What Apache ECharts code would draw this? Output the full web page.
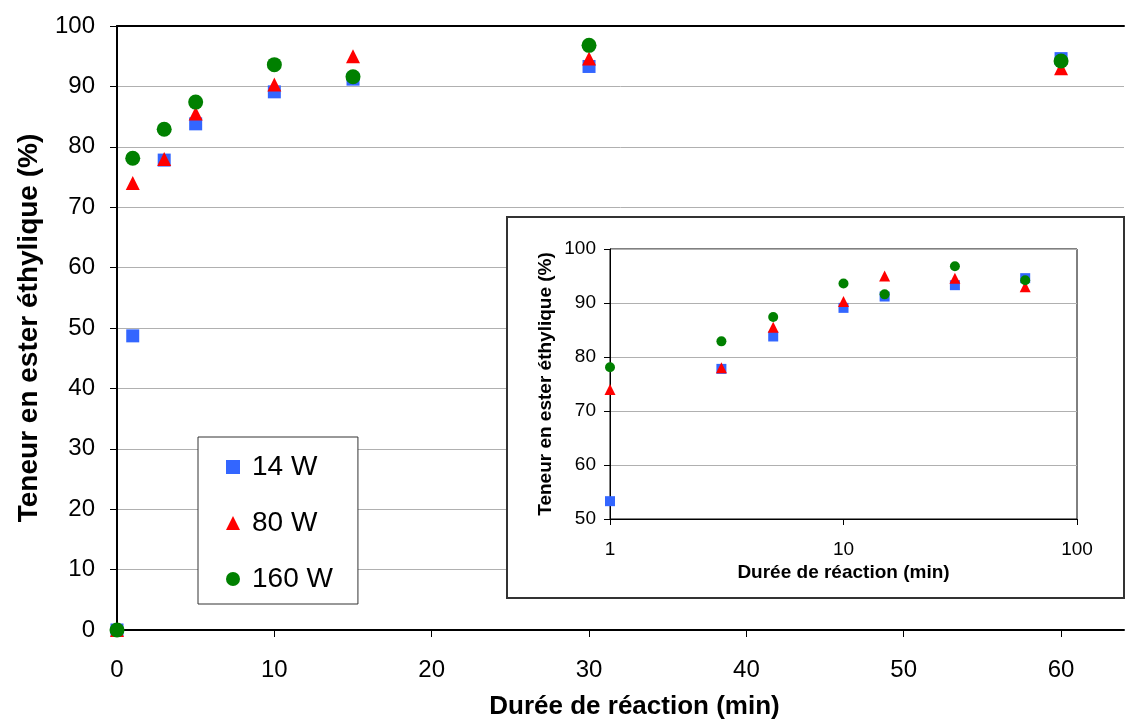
<!DOCTYPE html>
<html>
<head>
<meta charset="utf-8">
<script src="https://cdn.jsdelivr.net/npm/echarts@6/dist/echarts.min.js"></script>
<style>
	html, body { margin: 0; padding: 0; background: #fff; }
	#main { width: 1126px; height: 719px; }
</style>
</head>
<body>
<div id="main"></div>
<script>
// durée de réaction (min)
var temps = [0, 1, 3, 5, 10, 15, 30, 60];
// teneur en ester éthylique (%) - graphique principal
var w14 = [0, 48.7, 77.8, 83.8, 89.1, 91.2, 93.3, 94.6];
var w80 = [0, 74.0, 78.0, 85.5, 90.3, 95.0, 94.6, 93.0];
var w160 = [0, 78.1, 82.9, 87.4, 93.6, 91.6, 96.8, 94.2];
// encart (échelle log) : le point 14 W à 1 min y est lu plus haut
var w14Encart = [0, 53.3, 77.8, 83.8, 89.1, 91.2, 93.3, 94.6];
var noms = ["14 W", "80 W", "160 W"];
var ticksX = [0, 10, 20, 30, 40, 50, 60];

var police = "'Liberation Sans', Arial, sans-serif";
var couleurs = ["#3366FF", "#FF0000", "#008000"];
var symboles = ["rect", "triangle", "circle"];
var tailles = [13, 14, 15];
var taillesInset = [10, 11, 10];

function points(vals, sansZero) {
	var out = [];
	for (var i = 0; i < temps.length; i++) {
		if (sansZero && temps[i] <= 0) continue;
		out.push([temps[i], vals[i]]);
	}
	return out;
}
var valeurs = [w14, w80, w160];
var valeursEncart = [w14Encart, w80, w160];

var series = [];
// graphique principal
for (var i = 0; i < 3; i++) {
	series.push({
		name: noms[i],
		type: "scatter",
		xAxisIndex: 0,
		yAxisIndex: 0,
		symbol: symboles[i],
		symbolSize: tailles[i],
		itemStyle: { color: couleurs[i], opacity: 1 },
		clip: false,
		z: 2,
		data: points(valeurs[i], false)
	});
}
// encart log
for (var j = 0; j < 3; j++) {
	series.push({
		name: noms[j],
		type: "scatter",
		xAxisIndex: 2,
		yAxisIndex: 1,
		symbol: symboles[j],
		symbolSize: taillesInset[j],
		itemStyle: { color: couleurs[j], opacity: 1 },
		clip: false,
		z: 5,
		data: points(valeursEncart[j], true)
	});
}

var chart = echarts.init(document.getElementById("main"));
var option = {
	backgroundColor: "#fff",
	animation: false,
	textStyle: { fontFamily: police },
	grid: [
		{ left: 117, top: 26, right: 2, bottom: 89, outerBoundsMode: "none" },
		{ left: 610, top: 249, right: 49, bottom: 200, outerBoundsMode: "none", show: true, borderColor: "#000", borderWidth: 1, backgroundColor: "transparent", z: 3 }
	],
	graphic: [
		{
			type: "rect",
			z: 1,
			shape: { x: 507, y: 217, width: 617, height: 381 },
			style: { fill: "#fff", stroke: "#333", lineWidth: 2 }
		}
	],
	legend: {
		orient: "vertical",
		left: 198,
		top: 437,
		padding: [16, 25, 11, 28],
		itemGap: 28,
		itemWidth: 14,
		itemHeight: 14,
		backgroundColor: "#fff",
		borderColor: "#333",
		borderWidth: 1,
		borderRadius: 0,
		data: noms,
		textStyle: { fontFamily: police, fontSize: 28, color: "#000", padding: [0, 0, 0, 7] }
	},
	xAxis: [
		{
			type: "value",
			gridIndex: 0,
			min: 0,
			max: 64,
			interval: 10,
			name: "Durée de réaction (min)",
			nameLocation: "middle",
			nameGap: 64,
			nameTextStyle: { fontFamily: police, fontSize: 26, fontWeight: "bold", color: "#000", padding: [0, 0, 0, 28] },
			axisLine: { show: true, lineStyle: { color: "#000", width: 2 } },
			axisTick: { show: true, length: 7, customValues: ticksX, lineStyle: { color: "#000", width: 1 } },
			axisLabel: { customValues: ticksX, margin: 28, fontSize: 24, color: "#000", fontFamily: police },
			splitLine: { show: false }
		},
		{
			type: "value",
			gridIndex: 0,
			position: "top",
			min: 0,
			max: 64,
			axisLine: { show: true, lineStyle: { color: "#000", width: 2 } },
			axisTick: { show: false },
			axisLabel: { show: false },
			splitLine: { show: false }
		},
		{
			type: "log",
			gridIndex: 1,
			logBase: 10,
			min: 1,
			max: 100,
			z: 3,
			name: "Durée de réaction (min)",
			nameLocation: "middle",
			nameGap: 44,
			nameTextStyle: { fontFamily: police, fontSize: 19, fontWeight: "bold", color: "#000" },
			axisLine: { show: true, lineStyle: { color: "#000", width: 1 } },
			axisTick: { show: true, length: 6, lineStyle: { color: "#000" } },
			minorTick: { show: false },
			axisLabel: { margin: 21, fontSize: 19, color: "#000", fontFamily: police },
			splitLine: { show: false }
		}
	],
	yAxis: [
		{
			type: "value",
			gridIndex: 0,
			min: 0,
			max: 100,
			interval: 10,
			name: "Teneur en ester éthylique (%)",
			nameLocation: "middle",
			nameGap: 74,
			nameTextStyle: { fontFamily: police, fontSize: 28, fontWeight: "bold", color: "#000" },
			axisLine: { show: true, lineStyle: { color: "#000", width: 2 } },
			axisTick: { show: true, length: 7, lineStyle: { color: "#000", width: 1 } },
			axisLabel: { margin: 22, fontSize: 24, color: "#000", fontFamily: police },
			splitLine: { show: true, lineStyle: { color: "#b0b0b0", width: 1 } }
		},
		{
			type: "value",
			gridIndex: 1,
			min: 50,
			max: 100,
			interval: 10,
			z: 3,
			name: "Teneur en ester éthylique (%)",
			nameLocation: "middle",
			nameGap: 55,
			nameTextStyle: { fontFamily: police, fontSize: 19, fontWeight: "bold", color: "#000" },
			axisLine: { show: true, lineStyle: { color: "#000", width: 1 } },
			axisTick: { show: true, length: 6, lineStyle: { color: "#000" } },
			axisLabel: { margin: 14, fontSize: 19, color: "#000", fontFamily: police },
			splitLine: { show: true, lineStyle: { color: "#b0b0b0", width: 1 } }
		}
	],
	series: series
};
chart.setOption(option);
window.addEventListener("resize", chart.resize);
</script>
</body>
</html>
